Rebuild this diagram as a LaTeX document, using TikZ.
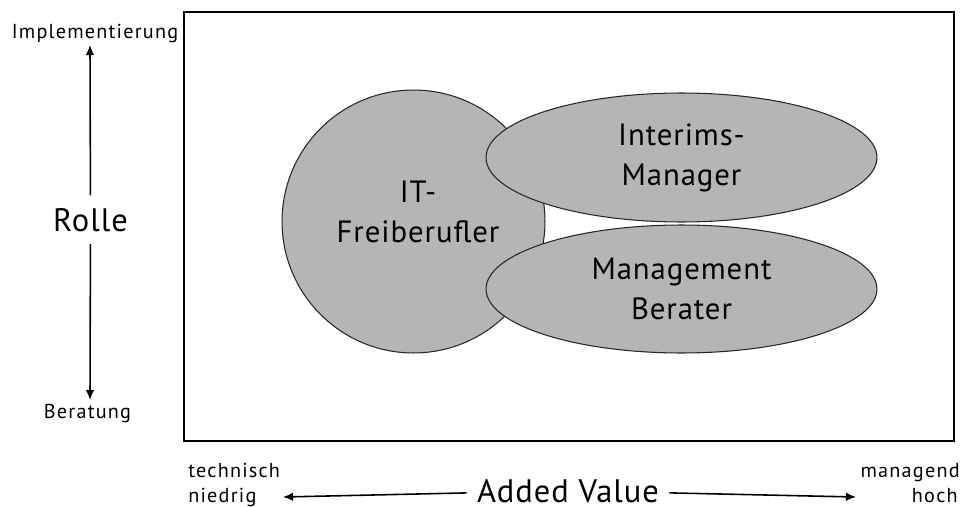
\documentclass[tikz,border=0pt]{standalone}
\usepackage{fontspec}
\setmainfont{PT Sans}
\newfontfamily\widefont[LetterSpace=3]{PT Sans}
\newfontfamily\smallfont[LetterSpace=6]{PT Sans}
\usetikzlibrary{shapes.geometric,arrows.meta}

\tikzstyle{group}=[ellipse,draw=black!85,fill=black!29,line width=0.6pt,inner sep=0pt]
\tikzstyle{bigtext}=[align=center,inner sep=0pt,font=\widefont\fontsize{17.5}{22.8}\selectfont]
\tikzstyle{axistext}=[inner sep=0pt,font=\widefont\fontsize{18.5}{22.8}\selectfont]
\tikzstyle{smalltext}=[inner sep=1.5pt,font=\smallfont\fontsize{11.5}{13.7}\selectfont]
\tikzstyle{axis}=[-{Latex[length=2mm,width=1.7mm]},black,line width=0.9pt]

\begin{document}
\begin{tikzpicture}[x=0.02cm,y=-0.02cm]
			\useasboundingbox (0,0) rectangle (964,507);
			%Frame
			\draw[line width=1pt] (184,12) rectangle (954,441);
			%Adding the groups
			\node[group,minimum width=5.26cm,minimum height=5.26cm] (it) at (413.5,221.5) {};
			\node[bigtext] (itlabel) at (418,212) {IT-\\Freiberufler};
			\node[group,bigtext,minimum width=7.82cm,minimum height=2.58cm] (interim) at (681.5,157.5) {Interims-\\Manager};
			\node[group,bigtext,minimum width=7.82cm,minimum height=2.56cm] (berater) at (681.5,289) {Management\\Berater};
			%Adding the role axis
			\node[axistext,inner sep=7pt,anchor=base] (rolle) at (90.5,231) {Rolle};
			\node[smalltext,anchor=base] (impl) at (95,38) {Implementierung};
			\node[smalltext,anchor=base] (beratung) at (87.5,418) {Beratung};
			\coordinate (roletop) at (90,45);
			\coordinate (rolebottom) at (90,400);
			\draw[axis] (rolle) -- (roletop);
			\draw[axis] (rolle) -- (rolebottom);
			%Adding the value axis
			\node[axistext,inner xsep=5.7pt,anchor=base] (value) at (568,502) {Added Value};
			\node[smalltext,inner sep=0pt,anchor=base west] (tech) at (188,477) {technisch};
			\node[smalltext,inner sep=0pt,anchor=base west] (low) at (188,502) {niedrig};
			\node[smalltext,inner sep=0pt,anchor=base east] (mgmt) at (960,477) {managend};
			\node[smalltext,inner sep=0pt,anchor=base east] (high) at (958,502) {hoch};
			\coordinate (valueleft) at (283,497);
			\coordinate (valueright) at (856,497);
			\draw[axis] (value) -- (valueleft);
			\draw[axis] (value) -- (valueright);
		\end{tikzpicture}
\end{document}
